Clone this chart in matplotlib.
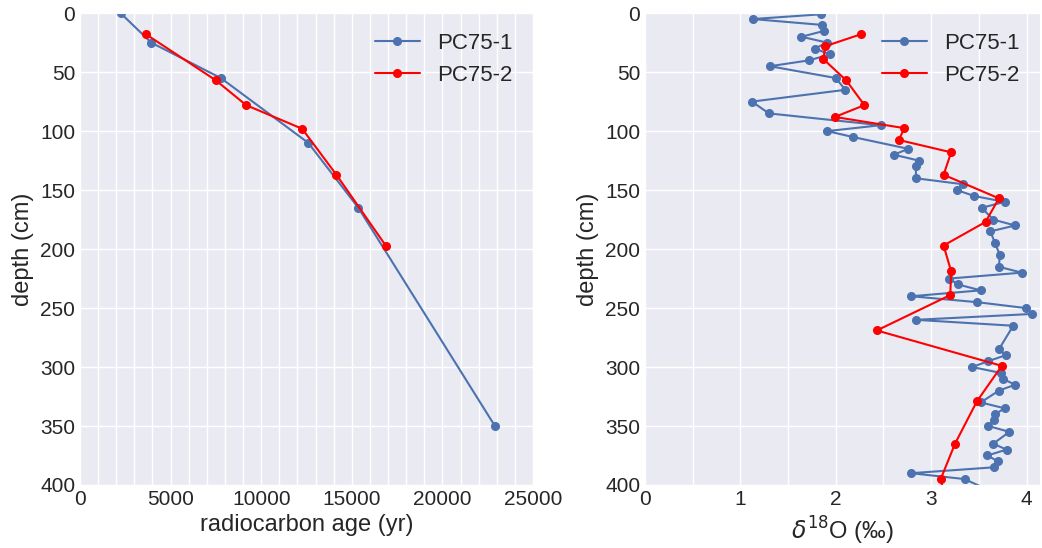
import numpy as np
import matplotlib
matplotlib.use("Agg")
import matplotlib.pyplot as plt
import seaborn as sns
from matplotlib.ticker import MultipleLocator

sns.set_style("darkgrid")
plt.rcParams['font.family'] = ['Liberation Sans', 'DejaVu Sans']

# radiocarbon ages (yr) vs depth (cm)
c14_depth_1 = [0, 25, 55, 110, 165, 350]
c14_age_1 = [2240, 3930, 7770, 12600, 15360, 22900]
c14_depth_2 = [18, 57, 78, 98, 137, 197]
c14_age_2 = [3650, 7500, 9170, 12260, 14150, 16870]

# d18O records
o18_depth_1 = [1, 5, 10, 15, 20, 25, 30, 35, 40, 45, 55, 65, 75, 85, 95,
               100, 105, 115, 120, 125, 130, 140, 145, 150, 155, 160, 165,
               175, 180, 185, 195, 205, 215, 220, 225, 230, 235, 240, 245,
               250, 255, 260, 265, 285, 290, 295, 300, 305, 310, 315, 320,
               330, 335, 340, 345, 350, 355, 365, 370, 375, 380, 385, 390,
               395, 405]
o18_1 = [1.84, 1.13, 1.86, 1.88, 1.64, 1.91, 1.78, 1.94, 1.72, 1.31, 2.00,
         2.10, 1.12, 1.30, 2.47, 1.91, 2.18, 2.76, 2.61, 2.87, 2.84, 2.84,
         3.33, 3.27, 3.45, 3.77, 3.53, 3.65, 3.88, 3.62, 3.67, 3.72, 3.71,
         3.95, 3.19, 3.28, 3.52, 2.79, 3.48, 3.99, 4.06, 2.84, 3.86, 3.71,
         3.78, 3.60, 3.43, 3.73, 3.75, 3.88, 3.71, 3.52, 3.77, 3.67, 3.66,
         3.60, 3.82, 3.65, 3.79, 3.59, 3.70, 3.66, 2.79, 3.35, 3.62]
o18_depth_2 = [18, 28, 39, 57, 78, 88, 97.5, 107.5, 118, 137, 157, 177, 197,
               219, 239, 269, 299, 329, 365, 395, 425]
o18_2 = [2.26, 1.89, 1.87, 2.11, 2.30, 1.99, 2.72, 2.66, 3.21, 3.13, 3.71,
         3.57, 3.13, 3.21, 3.20, 2.43, 3.74, 3.48, 3.25, 3.10, 3.18]

blue = '#4C72B0'
red = 'red'

fig = plt.figure(figsize=(10.42, 5.48), dpi=100)
ax1 = fig.add_axes([0.0768, 0.115, 0.4347, 0.861])
ax2 = fig.add_axes([0.619, 0.115, 0.379, 0.861])

ax1.plot(c14_age_1, c14_depth_1, '-o', color=blue, ms=5.5, lw=1.5, label='PC75-1')
ax1.plot(c14_age_2, c14_depth_2, '-o', color=red, ms=5.5, lw=1.5, label='PC75-2')
ax1.set_xlim(0, 25000)
ax1.set_ylim(400, 0)
ax1.xaxis.set_major_locator(MultipleLocator(5000))
ax1.xaxis.set_minor_locator(MultipleLocator(1000))
ax1.set_xlabel('radiocarbon age (yr)', fontsize=17)
ax1.set_ylabel('depth (cm)', fontsize=17)

ax2.plot(o18_1, o18_depth_1, '-o', color=blue, ms=5.5, lw=1.5, label='PC75-1')
ax2.plot(o18_2, o18_depth_2, '-o', color=red, ms=5.5, lw=1.5, label='PC75-2')
ax2.set_xlim(0, 4.14)
ax2.set_ylim(400, 0)
ax2.xaxis.set_major_locator(MultipleLocator(1))
ax2.xaxis.set_minor_locator(MultipleLocator(0.5))
ax2.set_xlabel(r'$\delta^{18}$O (‰)', fontsize=17)
ax2.set_ylabel('depth (cm)', fontsize=17)

for ax in (ax1, ax2):
    ax.yaxis.set_major_locator(MultipleLocator(50))
    ax.grid(which='both', color='white', lw=1)
    ax.tick_params(which='both', length=0, labelsize=15)
    ax.legend(loc='upper right', fontsize=16, frameon=False)

fig.savefig('out.png', dpi=100)
